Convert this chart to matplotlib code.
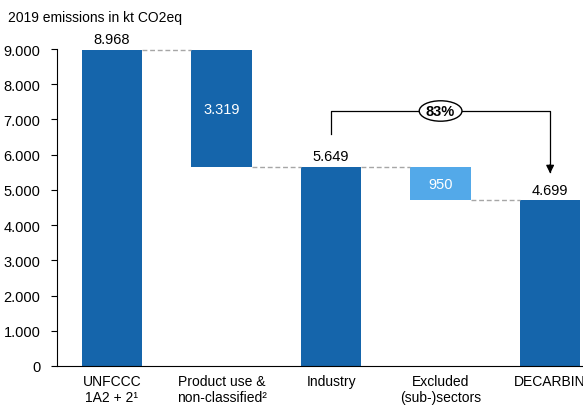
import matplotlib.pyplot as plt
from matplotlib.patches import Ellipse

plt.rcParams['font.family'] = ['Liberation Sans', 'DejaVu Sans']

categories = ['UNFCCC\n1A2 + 2\u00b9', 'Product use &\nnon-classified\u00b2', 'Industry',
              'Excluded\n(sub-)sectors', 'DECARBIN']
values = [8968, -3319, 5649, -950, 4699]
is_total = [True, False, True, False, True]
share_label = '83%'

dark = '#1565ab'
light = '#53a9e9'


def fmt(v):
    return f'{abs(v):,}'.replace(',', '.')


fig = plt.figure(figsize=(5.83, 4.06), dpi=100)
ax = fig.add_axes([57 / 583, 39 / 406, 526 / 583, 317 / 406])

x = list(range(len(values)))
w = 0.55
level = 0
tops = []
bottoms = []
for i, v in enumerate(values):
    if is_total[i]:
        bottom, height = 0, v
        level = v
        ax.bar(i, height, w, bottom=bottom, color=dark)
        ax.text(i, v + 110, fmt(v), ha='center', va='bottom', fontsize=10.5)
    else:
        bottom, height = level + v, -v
        level = level + v
        ax.bar(i, height, w, bottom=bottom, color=dark if v < -1000 else light)
        ax.text(i, bottom + height / 2, fmt(v), ha='center', va='center',
                fontsize=10.5, color='white')
    tops.append(bottom + height)
    bottoms.append(bottom)

# dashed connectors between bars
for i in range(len(values) - 1):
    y = tops[i] if is_total[i] else bottoms[i]
    ax.plot([i + w / 2, i + 1 - w / 2], [y, y], ls=(0, (3.5, 2)), color='#a6a6a6', lw=1)

# 83% bracket from Industry to DECARBIN
ax.plot([2, 2, 4, 4], [6590, 7240, 7240, 5500], color='black', lw=0.9)
ax.annotate('', xy=(4, 5390), xytext=(4, 5800),
            arrowprops=dict(arrowstyle='-|>', color='black', lw=0.9, mutation_scale=12))
ax.add_patch(Ellipse((3, 7240), 0.39, 580, facecolor='white', edgecolor='black', lw=1, zorder=3))
ax.text(3, 7240, share_label, ha='center', va='center', fontsize=10.5, fontweight='bold', zorder=4)

ax.set_xlim(-0.502, 4.30)
ax.set_ylim(0, 9000)
ax.set_yticks(range(0, 9001, 1000))
ax.set_yticklabels([fmt(t) for t in range(0, 9001, 1000)], fontsize=10.5)
ax.set_xticks(x)
ax.set_xticklabels(categories, fontsize=10, linespacing=1.15)
ax.tick_params(axis='x', length=0, pad=6)
ax.tick_params(axis='y', length=4, pad=8)
for s in ['top', 'right']:
    ax.spines[s].set_visible(False)

fig.text(8 / 583, 1 - 18 / 406, '2019 emissions in kt CO2eq', fontsize=10, va='center')

fig.savefig('out.png', dpi=100)
